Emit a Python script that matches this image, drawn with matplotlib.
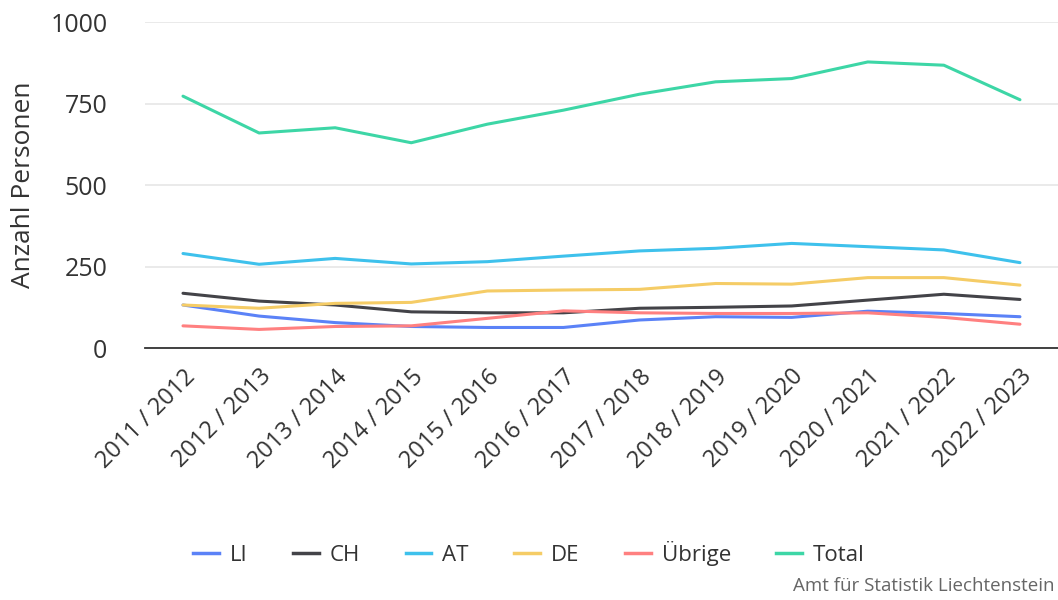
import matplotlib.pyplot as plt
from matplotlib.lines import Line2D

plt.rcParams['font.family'] = ['Open Sans', 'DejaVu Sans']

# school years
years = ["2011 / 2012", "2012 / 2013", "2013 / 2014", "2014 / 2015", "2015 / 2016",
         "2016 / 2017", "2017 / 2018", "2018 / 2019", "2019 / 2020", "2020 / 2021",
         "2021 / 2022", "2022 / 2023"]

# Anzahl Personen per group
li = [132, 98, 78, 66, 63, 63, 86, 96, 94, 113, 106, 96]
ch = [168, 144, 132, 111, 108, 108, 122, 125, 129, 147, 165, 149]
at = [290, 257, 275, 258, 265, 282, 298, 306, 321, 311, 301, 262]
de = [132, 122, 137, 140, 175, 178, 180, 198, 196, 216, 216, 193]
uebrige = [68, 57, 66, 68, 91, 114, 108, 106, 106, 108, 94, 73]
total = [773, 660, 676, 630, 687, 730, 779, 817, 827, 878, 868, 762]

series = [("LI", li, "#5b82f7"), ("CH", ch, "#434348"), ("AT", at, "#3ec1ec"),
          ("DE", de, "#f5cc66"), ("Übrige", uebrige, "#ff8080"), ("Total", total, "#3dd6a6")]

fig = plt.figure(figsize=(10.58, 6), dpi=100)
ax = fig.add_axes([0.137, 0.42, 0.863, 0.543])

x = list(range(len(years)))
for name, vals, color in series:
    ax.plot(x, vals, color=color, lw=2.2, label=name, solid_capstyle='round')

ax.set_xlim(-0.5, len(years) - 0.5)
ax.set_ylim(0, 1000)
ax.set_yticks([0, 250, 500, 750, 1000])
ax.grid(axis='y', color='#e6e6e6', lw=1.2)
ax.set_axisbelow(True)
for s in ['top', 'right', 'left']:
    ax.spines[s].set_visible(False)
ax.spines['bottom'].set_color('#333333')
ax.spines['bottom'].set_linewidth(1.3)
ax.tick_params(axis='y', length=0, labelsize=18, labelcolor='#333333', pad=27)
ax.tick_params(axis='x', length=0, labelsize=17, labelcolor='#333333', pad=12)
ax.set_xticks(x)
ax.set_xticklabels(years, rotation=45, ha='right', rotation_mode='anchor')
ax.set_ylabel("Anzahl Personen", fontsize=19, color='#333333', labelpad=10)

handles = [Line2D([], [], color=c, lw=2.5) for _, _, c in series]
fig.legend(handles, [n for n, _, _ in series], loc='center', bbox_to_anchor=(0.5, 0.078),
           ncol=6, frameon=False, fontsize=16, handlelength=1.15, columnspacing=2.05,
           handletextpad=0.5, labelcolor='#333333')

fig.text(0.997, 0.008, "Amt für Statistik Liechtenstein", ha='right', va='bottom',
         fontsize=13.5, color='#666666')

fig.savefig("out.png", dpi=100)
